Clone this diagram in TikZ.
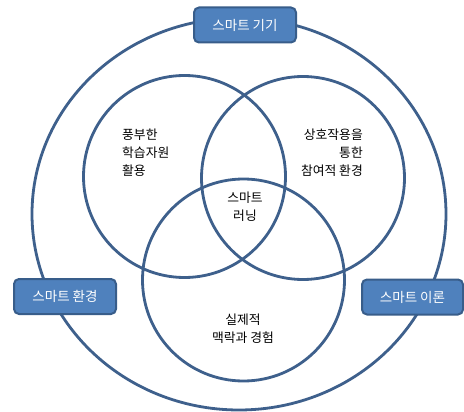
\documentclass[tikz,border=0pt]{standalone}
\usepackage{fontspec}
\setmainfont{Noto Sans CJK KR}
\definecolor{ringblue}{RGB}{62,96,140}
\definecolor{boxfill}{RGB}{79,129,189}
\definecolor{boxline}{RGB}{56,93,138}
\begin{document}
\begin{tikzpicture}[x=1pt,y=-1pt,
  ring/.style={draw=ringblue,line width=2.8pt},
  labelbox/.style={draw=boxline,fill=boxfill,line width=2pt,rounded corners=5pt,
    text=white,minimum width=102pt,minimum height=35pt,inner sep=0pt,
    font=\fontsize{13.5}{16}\selectfont},
  inner/.style={text=black,inner sep=0pt,font=\fontsize{12.8}{18}\selectfont}]
\useasboundingbox (0,0) rectangle (464,412);
\fill[white] (0,0) rectangle (464,412);
% outer ring
\draw[ring] (239,214) ellipse [x radius=207, y radius=196];
% three circles
\draw[ring] (184.5,176.5) circle [radius=101];
\draw[ring] (303,178) circle [radius=101.5];
\draw[ring] (243.5,280) circle [radius=101];
% boxes
\node[labelbox] (device) at (245,25) {스마트 기기};
\node[labelbox] (env) at (65,296.5) {스마트 환경};
\node[labelbox,minimum width=101pt] (theory) at (412.5,297) {스마트 이론};
% inner texts
\node[inner,anchor=west,align=left] (resource) at (122,153) {풍부한\\학습자원\\활용};
\node[inner,anchor=east,align=right] (interact) at (363,153) {상호작용을\\통한\\참여적 환경};
\node[inner,align=center] (smart) at (245,206.5) {스마트\\러닝};
\node[inner,align=center] (context) at (243,328.5) {실제적\\맥락과 경험};
\end{tikzpicture}
\end{document}
